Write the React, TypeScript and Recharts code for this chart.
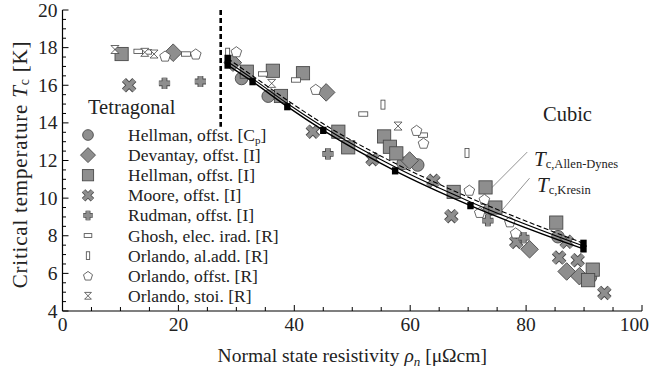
import React from 'react';
import { ScatterChart, Scatter, XAxis, YAxis, ReferenceLine, Label } from 'recharts';

const FONT = 'Liberation Serif, DejaVu Serif, serif';
const TXT = { fontFamily: FONT };

// tick values
const xTicks = [0, 5, 10, 15, 20, 25, 30, 35, 40, 45, 50, 55, 60, 65, 70, 75, 80, 85, 90, 95, 100];
const xLabels = [0, 20, 40, 60, 80, 100];
const yTicks = [4, 4.5, 5, 5.5, 6, 6.5, 7, 7.5, 8, 8.5, 9, 9.5, 10, 10.5, 11, 11.5, 12, 12.5, 13, 13.5, 14, 14.5, 15, 15.5, 16, 16.5, 17, 17.5, 18, 18.5, 19, 19.5, 20];
const yLabels = [4, 6, 8, 10, 12, 14, 16, 18, 20];

// measured data (rho_n, Tc)
const hellmanCp = [
  { x: 30.9, y: 16.36 }, { x: 35.5, y: 15.42 }, { x: 58.8, y: 11.85 }, { x: 61.3, y: 11.76 },
  { x: 73.7, y: 9.4 }, { x: 85.5, y: 7.95 }, { x: 91.1, y: 5.8 },
];
const devantay = [
  { x: 19.1, y: 17.73 }, { x: 29.4, y: 17.2 }, { x: 45.5, y: 15.62 }, { x: 59.9, y: 12.0 },
  { x: 80.6, y: 7.28 }, { x: 87.0, y: 6.1 }, { x: 89.2, y: 5.85 },
];
const hellmanI = [
  { x: 10.2, y: 17.66 }, { x: 31.8, y: 16.72 }, { x: 36.3, y: 16.77 }, { x: 37.7, y: 15.43 },
  { x: 41.5, y: 16.64 }, { x: 47.6, y: 13.53 }, { x: 49.3, y: 12.7 }, { x: 55.5, y: 13.28 },
  { x: 56.5, y: 12.73 }, { x: 57.6, y: 12.38 }, { x: 67.5, y: 10.33 }, { x: 73.0, y: 10.57 },
  { x: 74.7, y: 9.5 }, { x: 85.2, y: 8.7 }, { x: 91.5, y: 6.2 }, { x: 90.7, y: 5.64 },
];
const moore = [
  { x: 11.5, y: 16.0 }, { x: 43.2, y: 13.53 }, { x: 53.5, y: 12.07 }, { x: 64.0, y: 10.92 },
  { x: 67.1, y: 9.04 }, { x: 78.3, y: 7.67 }, { x: 87.0, y: 7.68 }, { x: 85.7, y: 6.84 },
  { x: 88.9, y: 6.7 }, { x: 93.5, y: 4.96 },
];
const rudman = [
  { x: 17.6, y: 16.1 }, { x: 23.8, y: 16.2 }, { x: 45.8, y: 12.35 }, { x: 73.4, y: 8.8 }, { x: 79.6, y: 7.9 },
];
const ghosh = [
  { x: 13.1, y: 17.8 }, { x: 14.6, y: 17.77 }, { x: 21.3, y: 17.66 }, { x: 34.6, y: 16.6 },
  { x: 40.3, y: 16.28 }, { x: 51.9, y: 14.47 }, { x: 62.2, y: 13.35 },
];
const orlandoAl = [{ x: 28.5, y: 17.73 }, { x: 55.3, y: 14.97 }, { x: 69.8, y: 12.4 }];
const orlandoOff = [
  { x: 17.7, y: 17.55 }, { x: 23.0, y: 17.66 }, { x: 30.0, y: 17.78 }, { x: 43.7, y: 15.78 },
  { x: 61.1, y: 13.6 }, { x: 62.3, y: 12.92 }, { x: 70.2, y: 10.42 }, { x: 72.8, y: 9.93 },
  { x: 72.0, y: 9.24 }, { x: 77.2, y: 8.74 }, { x: 78.2, y: 8.15 },
];
const orlandoStoi = [
  { x: 9.05, y: 17.9 }, { x: 14.2, y: 17.75 }, { x: 15.8, y: 17.66 }, { x: 36.1, y: 16.1 }, { x: 57.9, y: 13.83 },
];

// model curves
const curveRho = [28.5, 32.8, 38.8, 45.0, 57.4, 70.4, 89.9];
const tcKresin = [17.07, 16.19, 14.86, 13.6, 11.45, 9.6, 7.3];
const tcAllenSolid = [17.25, 16.35, 15.03, 13.78, 11.65, 9.8, 7.45];
const tcAllenDash = [17.43, 16.5, 15.2, 13.95, 11.85, 10.0, 7.6];

const kresinPts = curveRho.map((x, i) => ({ x, y: tcKresin[i] }));
const allenSolidPts = curveRho.map((x, i) => ({ x, y: tcAllenSolid[i] }));
const allenDashPts = curveRho.map((x, i) => ({ x, y: tcAllenDash[i] }));
const allenEnds = [allenDashPts[0], allenDashPts[allenDashPts.length - 1]];

const GRAY = '#8e8e8e';
const EDGE = '#4a4a4a';

function mark(kind: string, cx: number, cy: number, s = 1) {
  switch (kind) {
    case 'circle':
      return <circle cx={cx} cy={cy} r={6.3 * s} fill={GRAY} stroke={EDGE} strokeWidth={0.9} />;
    case 'diamond': {
      const d = 8.8 * s;
      return <polygon points={`${cx},${cy - d} ${cx + d},${cy} ${cx},${cy + d} ${cx - d},${cy}`} fill={GRAY} stroke={EDGE} strokeWidth={0.9} />;
    }
    case 'square': {
      const h = 6.6 * s;
      return <rect x={cx - h} y={cy - h} width={2 * h} height={2 * h} fill={GRAY} stroke={EDGE} strokeWidth={0.9} />;
    }
    case 'cross': {
      const a = 5.2 * s;
      const d = `M${cx - a},${cy - a}L${cx + a},${cy + a}M${cx + a},${cy - a}L${cx - a},${cy + a}`;
      return <g><path d={d} stroke={EDGE} strokeWidth={5.8 * s} /><path d={d} stroke={GRAY} strokeWidth={4 * s} /></g>;
    }
    case 'plus': {
      const a = 5.6 * s;
      const d = `M${cx - a},${cy}L${cx + a},${cy}M${cx},${cy - a}L${cx},${cy + a}`;
      return <g><path d={d} stroke={EDGE} strokeWidth={5.8 * s} /><path d={d} stroke={GRAY} strokeWidth={4 * s} /></g>;
    }
    case 'rectW':
      return <rect x={cx - 4.5 * s} y={cy - 2.2 * s} width={9 * s} height={4.4 * s} fill="#fff" stroke="#444" strokeWidth={0.8} />;
    case 'rectT':
      return <rect x={cx - 2 * s} y={cy - 4.5 * s} width={4 * s} height={9 * s} fill="#fff" stroke="#444" strokeWidth={0.8} />;
    case 'pent': {
      const r = 5.6 * s;
      const pts = [0, 1, 2, 3, 4].map(k => {
        const a = -Math.PI / 2 + (k * 2 * Math.PI) / 5;
        return `${cx + r * Math.cos(a)},${cy + r * Math.sin(a) + 0.5}`;
      }).join(' ');
      return <polygon points={pts} fill="#fff" stroke="#444" strokeWidth={0.8} />;
    }
    case 'hour': {
      const a = 4 * s;
      return <path d={`M${cx - a},${cy - a}H${cx + a}L${cx - a},${cy + a}H${cx + a}Z`} fill="#fff" stroke="#444" strokeWidth={0.8} />;
    }
    default:
      return <g />;
  }
}

const series = [
  { name: 'Hellman, offst. [C', sub: 'p', data: hellmanCp, kind: 'circle' },
  { name: 'Devantay, offst. [I]', data: devantay, kind: 'diamond' },
  { name: 'Hellman, offst. [I]', data: hellmanI, kind: 'square' },
  { name: 'Moore, offst. [I]', data: moore, kind: 'cross' },
  { name: 'Rudman, offst. [I]', data: rudman, kind: 'plus' },
  { name: 'Ghosh, elec. irad. [R]', data: ghosh, kind: 'rectW' },
  { name: 'Orlando, al.add. [R]', data: orlandoAl, kind: 'rectT' },
  { name: 'Orlando, offst. [R]', data: orlandoOff, kind: 'pent' },
  { name: 'Orlando, stoi. [R]', data: orlandoStoi, kind: 'hour' },
];

const BottomTick = (p: any) => {
  const v = p.payload.value;
  const major = xLabels.includes(v);
  const last = v === 100;
  return (
    <g>
      <line x1={p.x} x2={p.x} y1={p.y} y2={p.y - (major ? 6 : 4)} stroke="#000" strokeWidth={1} />
      {major && <text x={last ? p.x + 7 : p.x} y={p.y + 20} textAnchor={last ? 'end' : 'middle'} fontSize={19.5} style={TXT} fill="#222">{v}</text>}
    </g>
  );
};
const TopTick = (p: any) => {
  const major = xLabels.includes(p.payload.value);
  return <line x1={p.x} x2={p.x} y1={p.y} y2={p.y + (major ? 6 : 4)} stroke="#000" strokeWidth={1} />;
};
const LeftTick = (p: any) => {
  const v = p.payload.value;
  const major = yLabels.includes(v);
  return (
    <g>
      <line x1={p.x} x2={p.x + (major ? 6 : 3.5)} y1={p.y} y2={p.y} stroke="#000" strokeWidth={1} />
      {major && <text x={p.x - 5} y={p.y + 6.5} textAnchor="end" fontSize={19.5} style={TXT} fill="#222">{v}</text>}
    </g>
  );
};
const RightTick = (p: any) => {
  const major = yLabels.includes(p.payload.value);
  return <line x1={p.x} x2={p.x - (major ? 6 : 3.5)} y1={p.y} y2={p.y} stroke="#000" strokeWidth={1} />;
};

const YTitle = (p: any) => {
  const vb = p.viewBox;
  const cx = 22;
  const cy = vb.y + vb.height / 2 + 4;
  return (
    <text x={cx} y={cy} transform={`rotate(-90 ${cx} ${cy})`} textAnchor="middle" dominantBaseline="middle" fontSize={21} letterSpacing={0.8} style={TXT} fill="#222">
      Critical temperature <tspan fontStyle="italic">T</tspan><tspan fontSize={14} dy={4}>c</tspan><tspan dy={-4}> [K]</tspan>
    </text>
  );
};
const XTitle = (p: any) => {
  const vb = p.viewBox;
  const cx = vb.x + vb.width / 2;
  return (
    <text x={cx} y={362} textAnchor="middle" fontSize={19.5} style={TXT} fill="#222">
      Normal state resistivity <tspan fontStyle="italic">ρ</tspan><tspan fontStyle="italic" fontSize={13} dy={4}>n</tspan><tspan dy={-4}> [μΩcm]</tspan>
    </text>
  );
};

const blackSq = (p: any) => <rect x={p.cx - 3.2} y={p.cy - 3.6} width={6.4} height={7.2} fill="#000" />;
const none = () => <g />;

export default function App() {
  const legendX = 88;
  const legendTop = 135;
  const rowH = 20.1;
  return (
    <div style={{ position: 'absolute', left: 0, top: 0, width: 649, height: 369, background: '#fff', fontFamily: FONT }}>
      <ScatterChart width={649} height={369} margin={{ top: 10, right: 7, bottom: 0, left: 0 }}>
        <XAxis type="number" dataKey="x" domain={[0, 100]} ticks={xTicks} interval={0} tickSize={0} tickMargin={0}
          tickLine={false} height={58} axisLine={{ stroke: '#000', strokeWidth: 1.2 }} tick={BottomTick} allowDataOverflow>
          <Label content={XTitle} />
        </XAxis>
        <XAxis xAxisId="top" orientation="top" type="number" dataKey="x" domain={[0, 100]} ticks={xTicks} interval={0}
          tickSize={0} tickMargin={0} tickLine={false} height={0} axisLine={{ stroke: '#000', strokeWidth: 1.2 }} tick={TopTick} allowDataOverflow />
        <YAxis type="number" dataKey="y" domain={[4, 20]} ticks={yTicks} interval={0} tickSize={0} tickMargin={0}
          tickLine={false} width={62.5} axisLine={{ stroke: '#000', strokeWidth: 1.2 }} tick={LeftTick} allowDataOverflow>
          <Label content={YTitle} />
        </YAxis>
        <YAxis yAxisId="right" orientation="right" type="number" dataKey="y" domain={[4, 20]} ticks={yTicks} interval={0}
          tickSize={0} tickMargin={0} tickLine={false} width={0} axisLine={{ stroke: '#000', strokeWidth: 1.2 }} tick={RightTick} allowDataOverflow />

        <ReferenceLine segment={[{ x: 27.3, y: 20 }, { x: 27.3, y: 13.8 }]} stroke="#000" strokeWidth={2.6} strokeDasharray="5 3" />
        <ReferenceLine segment={[{ x: 80.2, y: 12.45 }, { x: 72.8, y: 10.16 }]} stroke="#888" strokeWidth={0.9} />
        <ReferenceLine segment={[{ x: 80.6, y: 11.06 }, { x: 75.4, y: 9.2 }]} stroke="#888" strokeWidth={0.9} />

        {series.map(s => (
          <Scatter key={s.name} name={s.name} data={s.data} isAnimationActive={false}
            shape={(p: any) => mark(s.kind, p.cx, p.cy)} />
        ))}

        <Scatter data={allenDashPts} isAnimationActive={false} shape={none} lineJointType="monotoneX"
          line={{ stroke: '#000', strokeWidth: 1.1, strokeDasharray: '5 2.5' }} />
        <Scatter data={allenSolidPts} isAnimationActive={false} shape={none} lineJointType="monotoneX"
          line={{ stroke: '#000', strokeWidth: 1.1 }} />
        <Scatter data={kresinPts} isAnimationActive={false} shape={blackSq} lineJointType="monotoneX"
          line={{ stroke: '#000', strokeWidth: 1.4 }} />
        <Scatter data={allenEnds} isAnimationActive={false} shape={blackSq} />
      </ScatterChart>

      <svg width={649} height={369} style={{ position: 'absolute', left: 0, top: 0, pointerEvents: 'none', fontFamily: FONT }}>
        <text x={88} y={114} fontSize={20.5} style={TXT} fill="#222">Tetragonal</text>
        <text x={543} y={121} fontSize={20.5} style={TXT} fill="#222">Cubic</text>
        <text x={534} y={166} fontSize={21} style={TXT} fill="#222">
          <tspan fontStyle="italic">T</tspan><tspan fontSize={12.5} dy={2}>c,Allen-Dynes</tspan>
        </text>
        <text x={537} y={192} fontSize={21} style={TXT} fill="#222">
          <tspan fontStyle="italic">T</tspan><tspan fontSize={12.5} dy={2}>c,Kresin</tspan>
        </text>
        {series.map((s, i) => {
          const y = legendTop + i * rowH;
          return (
            <g key={s.name}>
              {mark(s.kind, legendX, y, 0.85)}
              <text x={128} y={y + 6} fontSize={17.5} style={TXT} fill="#222">
                {s.name}
                {s.sub && <><tspan fontSize={11} dy={3}>{s.sub}</tspan><tspan dy={-3}>]</tspan></>}
              </text>
            </g>
          );
        })}
      </svg>
    </div>
  );
}
